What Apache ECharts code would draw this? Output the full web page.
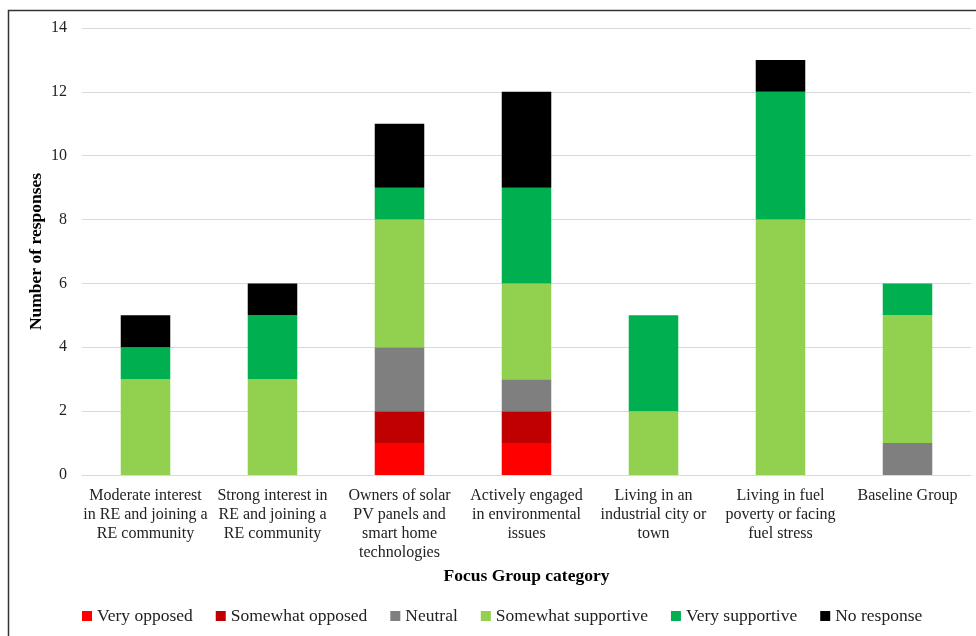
<!DOCTYPE html>
<html>
<head>
<meta charset="utf-8">
<script src="https://cdn.jsdelivr.net/npm/echarts@6/dist/echarts.min.js"></script>
<style>
  html, body { margin: 0; padding: 0; background: #fff; }
  #chart { width: 976px; height: 636px; }
</style>
</head>
<body>
<div id="chart"></div>
<script>
const categories = [
  'Moderate interest\nin RE and joining a\nRE community',
  'Strong interest in\nRE and joining a\nRE community',
  'Owners of solar\nPV panels and\nsmart home\ntechnologies',
  'Actively engaged\nin environmental\nissues',
  'Living in an\nindustrial city or\ntown',
  'Living in fuel\npoverty or facing\nfuel stress',
  'Baseline Group'
]

const veryOpposed = [0, 0, 1, 1, 0, 0, 0]
const somewhatOpposed = [0, 0, 1, 1, 0, 0, 0]
const neutral = [0, 0, 2, 1, 0, 0, 1]
const somewhatSupportive = [3, 3, 4, 3, 2, 8, 4]
const verySupportive = [1, 2, 1, 3, 3, 4, 1]
const noResponse = [1, 1, 2, 3, 0, 1, 0]

const font = 'Liberation Serif, Times New Roman, serif'

const makeSeries = (name, data, color) => ({
  name,
  type: 'bar',
  stack: 'total',
  barWidth: '39%',
  itemStyle: { color },
  data
})

const chart = echarts.init(document.getElementById('chart'))

const option = {
  animation: false,
  textStyle: { fontFamily: font },
  graphic: [{
    type: 'rect',
    shape: { x: 8.5, y: 10.5, width: 1000, height: 1000 },
    style: { fill: 'none', stroke: '#333', lineWidth: 1.5 }
  }],
  grid: {
    left: 82,
    right: 5,
    top: 28,
    bottom: 161
  },
  legend: {
    bottom: 6,
    left: 77,
    itemWidth: 10,
    itemHeight: 10,
    itemGap: 23,
    icon: 'rect',
    textStyle: { fontFamily: font, fontSize: 17.5, color: '#222' },
    data: ['Very opposed', 'Somewhat opposed', 'Neutral', 'Somewhat supportive', 'Very supportive', 'No response']
  },
  xAxis: {
    type: 'category',
    data: categories,
    name: 'Focus Group category',
    nameLocation: 'middle',
    nameGap: 92,
    nameMoveOverlap: false,
    nameTextStyle: { fontFamily: font, fontSize: 17.5, fontWeight: 'bold', color: '#000' },
    axisLine: { lineStyle: { color: '#d9d9d9' } },
    axisTick: { show: false },
    axisLabel: {
      interval: 0,
      fontFamily: font,
      fontSize: 16,
      color: '#222',
      lineHeight: 19,
      margin: 11
    }
  },
  yAxis: {
    type: 'value',
    min: 0,
    max: 14,
    interval: 2,
    name: 'Number of responses',
    nameLocation: 'middle',
    nameGap: 37,
    nameMoveOverlap: false,
    nameTextStyle: { fontFamily: font, fontSize: 17.5, fontWeight: 'bold', color: '#000' },
    axisLine: { show: false },
    axisTick: { show: false },
    axisLabel: { fontFamily: font, fontSize: 16, color: '#222', margin: 15 },
    splitLine: { lineStyle: { color: '#d9d9d9' } }
  },
  series: [
    makeSeries('Very opposed', veryOpposed, '#ff0000'),
    makeSeries('Somewhat opposed', somewhatOpposed, '#c00000'),
    makeSeries('Neutral', neutral, '#7f7f7f'),
    makeSeries('Somewhat supportive', somewhatSupportive, '#92d050'),
    makeSeries('Very supportive', verySupportive, '#00b050'),
    makeSeries('No response', noResponse, '#000000')
  ]
}

chart.setOption(option)
</script>
</body>
</html>
